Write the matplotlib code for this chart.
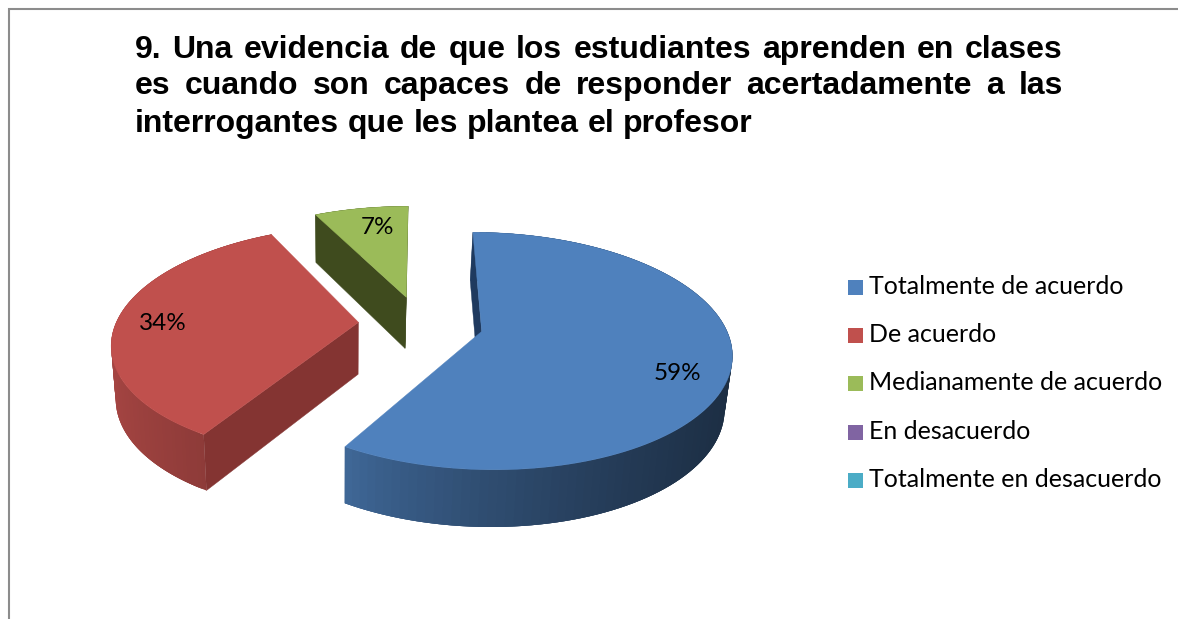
import numpy as np
import matplotlib
matplotlib.use('Agg')
import matplotlib.pyplot as plt
from matplotlib.patches import Polygon, Rectangle

categories = ['Totalmente de acuerdo', 'De acuerdo', 'Medianamente de acuerdo',
              'En desacuerdo', 'Totalmente en desacuerdo']
shares = [58.6, 34.0, 7.4, 0, 0]
colors = ['#4f81bd', '#c0504d', '#9bbb59', '#8064a2', '#4bacc6']
title_lines = ['9. Una evidencia de que los estudiantes aprenden en clases',
               'es cuando son capaces de responder acertadamente a las',
               'interrogantes que les plantea el profesor']

# pie projection, in picture pixels
X0, Y0 = 419.6, 323.4
SX, SY = 245.0, 114.0
PERSP = 0.165
DEPTH = 52.0
explode = [0.26, 0.25, 0.244]
radius = [0.99, 0.99, 1.0]


def project(u, v):
    d = 1 - PERSP * v
    return X0 + SX * u / d, Y0 + SY * v / d


def drop(x, y, v):
    # point under (x, y) on the lower face of the pie
    d = 1 - PERSP * v
    return x - 0.02 * (x - 340), y + DEPTH / np.sqrt(d)


def darker(col, f):
    return tuple(c * f for c in matplotlib.colors.to_rgb(col))


fig = plt.figure(figsize=(11.78, 6.19), dpi=100)
ax = fig.add_axes([0, 0, 1, 1])
ax.set_xlim(0, 1178)
ax.set_ylim(619, 0)
ax.axis('off')

# frame of the chart, only top and left are in the crop
ax.plot([8.5, 8.5, 1178], [619, 8.5, 8.5], color='#8c8c8c', lw=1.5, solid_joinstyle='miter')

rim_shades = {0: (0.82, 0.36), 1: (0.86, 0.68), 2: (0.45, 0.45)}
cut_colors = {0: '#1f3a5f', 1: '#843432', 2: '#3f4b1e'}
visible_cuts = {0: (0,), 1: (0,), 2: (0, -1)}

start = 0.0
total = sum(shares)
for i, s in enumerate(shares):
    if s == 0:
        continue
    sweep = 360.0 * s / total
    ang = np.radians(np.linspace(start, start + sweep, 120))
    mid = np.radians(start + sweep / 2)
    start += sweep

    au = explode[i] * np.sin(mid)
    av = -explode[i] * np.cos(mid)
    eu = au + radius[i] * np.sin(ang)
    ev = av - radius[i] * np.cos(ang)
    ex, ey = project(eu, ev)
    ax_, ay_ = project(au, av)
    bx, by = drop(ex, ey, ev)
    abx, aby = drop(ax_, ay_, av)

    # outer wall, shaded from left to right; strips overlap so no seams show
    lo, hi = rim_shades[i]
    xmin, xmax = ex.min(), ex.max()
    for j in range(len(ang) - 1):
        j2 = min(j + 3, len(ang) - 1)
        frac = ((ex[j] - xmin) / (xmax - xmin)) ** 0.75
        col = darker(colors[i], lo + (hi - lo) * frac)
        strip = list(zip(ex[j:j2 + 1], ey[j:j2 + 1])) + list(zip(bx[j:j2 + 1], by[j:j2 + 1]))[::-1]
        ax.add_patch(Polygon(strip, closed=True, fc=col, ec='none'))

    # cut faces that can be seen from above
    for k in visible_cuts[i]:
        ax.add_patch(Polygon([(ax_, ay_), (ex[k], ey[k]), (bx[k], by[k]), (abx, aby)],
                             closed=True, fc=cut_colors[i], ec=cut_colors[i], lw=0.3))

    # top face
    top = [(ax_, ay_)] + list(zip(ex, ey))
    ax.add_patch(Polygon(top, closed=True, fc=colors[i], ec=colors[i], lw=0.3))

# percent labels
label_xy = [(677, 374), (163, 323), (378, 228)]
for s, (lx, ly) in zip(shares, label_xy):
    ax.text(lx, ly, '%d%%' % round(s), ha='center', va='center', family='Lato',
            fontsize=17.5, color='black')

# justified title, word by word
title_size = 23.0
title_font = dict(family='Liberation Sans', weight='bold', fontsize=title_size, color='black')
left, right = 134.5, 1063.0
baselines = [58, 94, 132]
renderer = fig.canvas.get_renderer()
for n, line in enumerate(title_lines):
    words = line.split(' ')
    items = [ax.text(left, baselines[n], w, ha='left', va='baseline', **title_font) for w in words]
    widths = [t.get_window_extent(renderer).width for t in items]
    if n < len(title_lines) - 1:
        gap = (right - left - sum(widths)) / (len(words) - 1)
    else:
        gap = 0.278 * title_size / 0.72
    x = left
    for t, w in zip(items, widths):
        t.set_x(x)
        x += w + gap

# legend
legend_y = [287.5, 335.5, 383.5, 432.5, 480.5]
for name, col, y in zip(categories, colors, legend_y):
    ax.add_patch(Rectangle((848, y - 7.5), 15, 15, fc=col, ec='none'))
    ax.text(869, y - 1, name, ha='left', va='center', family='Lato', fontsize=18, color='black')

fig.savefig('out.png', dpi=100)
